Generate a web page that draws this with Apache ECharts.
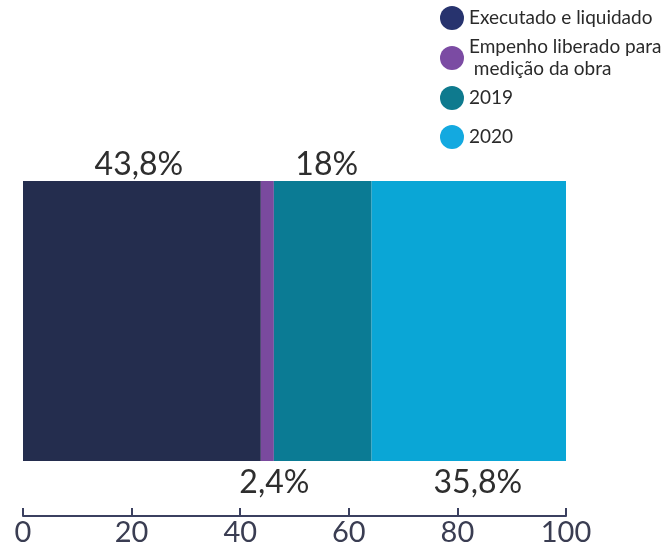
<!DOCTYPE html>
<html>
<head>
<meta charset="utf-8">
<script src="https://cdn.jsdelivr.net/npm/echarts@6/dist/echarts.min.js"></script>
<style>html,body{margin:0;padding:0;background:#fff}#c{width:667px;height:547px}</style>
</head>
<body>
<div id="c"></div>
<script>
var categories = ['Total'];
var seriesNames = ['Executado e liquidado', 'Empenho liberado para\n medição da obra', '2019', '2020'];
var seriesValues = [43.8, 2.4, 18, 35.8];
var valueLabels = ['43,8%', '2,4%', '18%', '35,8%'];
var labelSides = ['top', 'bottom', 'top', 'bottom'];
var tickLabels = [0, 20, 40, 60, 80, 100];

var colors = ['#242d4e', '#7a4a9e', '#0b7b94', '#0aa6d6'];
var legendColors = ['#27336e', '#7b4ba3', '#0e7a8e', '#13a9e0'];
var labelOffsets = [[-3, 0], [7, 0], [4, 0], [9, 0]];

var chart = echarts.init(document.getElementById('c'), null, {renderer: 'canvas'});
var FONT = 'Lato, "Noto Sans", sans-serif';

var series = seriesNames.map(function (name, i) {
  return {
    name: name,
    type: 'bar',
    stack: 'total',
    barWidth: '100%',
    data: [seriesValues[i]],
    itemStyle: {color: colors[i]},
    label: {
      show: true,
      position: labelSides[i],
      distance: labelSides[i] === 'top' ? 0 : 6,
      offset: labelOffsets[i],
      formatter: valueLabels[i],
      fontFamily: FONT,
      fontSize: 32,
      color: '#2e2e2e'
    },
    emphasis: {disabled: true}
  };
});

function legendItem(i) {
  return {name: seriesNames[i], icon: 'circle', itemStyle: {color: legendColors[i]}};
}

var legendText = {fontFamily: FONT, fontSize: 19, color: '#2a2a2a', lineHeight: 22};

chart.setOption({
  animation: false,
  grid: {left: 23, right: 101, top: 181, bottom: 86, containLabel: false},
  legend: [
    {
      orient: 'vertical', left: 440, top: 6, padding: 0,
      itemWidth: 24, itemHeight: 24, itemGap: 6,
      textStyle: legendText,
      selectedMode: false,
      data: [legendItem(0), legendItem(1), legendItem(2)]
    },
    {
      orient: 'vertical', left: 440, top: 125, padding: 0,
      itemWidth: 24, itemHeight: 24, itemGap: 6,
      textStyle: legendText,
      selectedMode: false,
      data: [legendItem(3)]
    }
  ],
  xAxis: {
    type: 'value',
    min: tickLabels[0],
    max: tickLabels[tickLabels.length - 1],
    interval: tickLabels[1] - tickLabels[0],
    offset: 55,
    axisLine: {show: true, lineStyle: {color: '#3b4060', width: 2}},
    axisTick: {show: true, inside: true, length: 8, lineStyle: {color: '#3b4060', width: 2}},
    splitLine: {show: false},
    axisLabel: {fontFamily: FONT, fontSize: 29, color: '#3a3d52', margin: 2}
  },
  yAxis: {
    type: 'category',
    data: categories,
    show: false
  },
  series: series
});
</script>
</body>
</html>
